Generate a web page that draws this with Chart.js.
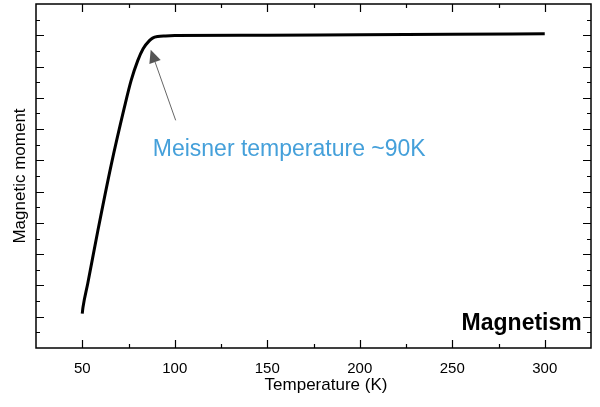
<!DOCTYPE html>
<html>
<head>
<meta charset="utf-8">
<script src="https://cdn.jsdelivr.net/npm/chart.js@4"></script>
<style>
  html, body { margin: 0; padding: 0; background: #fff; }
  #wrap { width: 600px; height: 407px; }
</style>
</head>
<body>
<div id="wrap"><canvas id="chart" width="600" height="407"></canvas></div>
<script>
// Magnetic moment vs temperature (arbitrary units)
const temperature = [50, 50.4, 53, 58.4, 65.6, 72.8, 76.4, 80, 82.9, 86.3, 88, 90.8, 95, 100, 150, 200, 250, 300];
const moment      = [1.1, 1.3, 2.07, 3.74, 5.84, 7.7, 8.55, 9.19, 9.57, 9.83, 9.91, 9.96, 9.98, 9.99, 10.0, 10.02, 10.03, 10.05];

// Axis ticks
const xTickLabels = [50, 100, 150, 200, 250, 300];
const xMinorTicks = [50, 75, 100, 125, 150, 175, 200, 225, 250, 275, 300];
const yMajorTicks = [1, 2, 3, 4, 5, 6, 7, 8, 9, 10];
const yMinorTicks = [0.5, 1.5, 2.5, 3.5, 4.5, 5.5, 6.5, 7.5, 8.5, 9.5, 10.5];

const FONT = '"Liberation Sans", Arial, sans-serif';

// Frame, inward ticks, annotation and x title
const framePlugin = {
  id: 'frame',
  afterDraw(chart) {
    const { ctx, chartArea: a, scales: { x, y } } = chart;
    ctx.save();
    ctx.strokeStyle = '#000';
    ctx.lineWidth = 1.5;
    ctx.strokeRect(a.left, a.top, a.right - a.left, a.bottom - a.top);

    ctx.lineWidth = 1.2;
    ctx.beginPath();
    xMinorTicks.forEach(v => {
      const px = Math.round(x.getPixelForValue(v)) + 0.5;
      const len = xTickLabels.includes(v) ? 8 : 4;
      ctx.moveTo(px, a.bottom); ctx.lineTo(px, a.bottom - len);
      ctx.moveTo(px, a.top); ctx.lineTo(px, a.top + len);
    });
    yMajorTicks.forEach(v => {
      const py = Math.round(y.getPixelForValue(v)) + 0.5;
      ctx.moveTo(a.left, py); ctx.lineTo(a.left + 8, py);
      ctx.moveTo(a.right, py); ctx.lineTo(a.right - 8, py);
    });
    yMinorTicks.forEach(v => {
      const py = Math.round(y.getPixelForValue(v)) + 0.5;
      ctx.moveTo(a.left, py); ctx.lineTo(a.left + 4, py);
      ctx.moveTo(a.right, py); ctx.lineTo(a.right - 4, py);
    });
    ctx.stroke();

    // Arrow pointing at the transition
    const tipX = x.getPixelForValue(87), tipY = y.getPixelForValue(9.54);
    const tailX = x.getPixelForValue(100.5), tailY = y.getPixelForValue(7.28);
    const ang = Math.atan2(tipY - tailY, tipX - tailX);
    const headLen = 13, headW = 6;
    const baseX = tipX - headLen * Math.cos(ang), baseY = tipY - headLen * Math.sin(ang);
    ctx.strokeStyle = '#666';
    ctx.lineWidth = 1;
    ctx.beginPath();
    ctx.moveTo(tailX, tailY);
    ctx.lineTo(baseX, baseY);
    ctx.stroke();
    ctx.fillStyle = '#555';
    ctx.beginPath();
    ctx.moveTo(tipX, tipY);
    ctx.lineTo(baseX + headW * Math.sin(ang), baseY - headW * Math.cos(ang));
    ctx.lineTo(baseX - headW * Math.sin(ang), baseY + headW * Math.cos(ang));
    ctx.closePath();
    ctx.fill();

    // Annotation text
    ctx.fillStyle = '#45a0da';
    ctx.font = '23px ' + FONT;
    ctx.textAlign = 'left';
    ctx.textBaseline = 'alphabetic';
    ctx.fillText('Meisner temperature ~90K', x.getPixelForValue(88.1), y.getPixelForValue(6.14));

    ctx.fillStyle = '#000';
    ctx.font = 'bold 23px ' + FONT;
    ctx.textAlign = 'right';
    ctx.fillText('Magnetism', x.getPixelForValue(320), y.getPixelForValue(0.57));

    // X axis title
    ctx.font = '17px ' + FONT;
    ctx.textAlign = 'center';
    ctx.textBaseline = 'middle';
    ctx.fillText('Temperature (K)', 326, 385);
    ctx.restore();
  }
};

new Chart(document.getElementById('chart'), {
  type: 'line',
  data: {
    datasets: [{
      data: temperature.map((t, i) => ({ x: t, y: moment[i] })),
      borderColor: '#000',
      borderWidth: 3,
      pointRadius: 0,
      cubicInterpolationMode: 'monotone',
      fill: false
    }]
  },
  options: {
    responsive: false,
    animation: false,
    layout: { padding: { top: 4, right: 9, left: 0, bottom: 0 } },
    plugins: {
      legend: { display: false },
      tooltip: { enabled: false }
    },
    scales: {
      x: {
        type: 'linear',
        min: 25,
        max: 325,
        afterBuildTicks: scale => { scale.ticks = xTickLabels.map(v => ({ value: v })); },
        afterFit: scale => { scale.height = 59; },
        ticks: { color: '#000', font: { family: FONT, size: 15 }, padding: 12, maxRotation: 0 },
        grid: { display: false, drawTicks: false },
        border: { display: false }
      },
      y: {
        min: 0,
        max: 11,
        afterFit: scale => { scale.width = 36; },
        ticks: { display: false },
        grid: { display: false, drawTicks: false },
        border: { display: false },
        title: {
          display: true,
          text: 'Magnetic moment',
          color: '#000',
          font: { family: FONT, size: 17 },
          padding: { top: 10, bottom: 0 }
        }
      }
    }
  },
  plugins: [framePlugin]
});
</script>
</body>
</html>
